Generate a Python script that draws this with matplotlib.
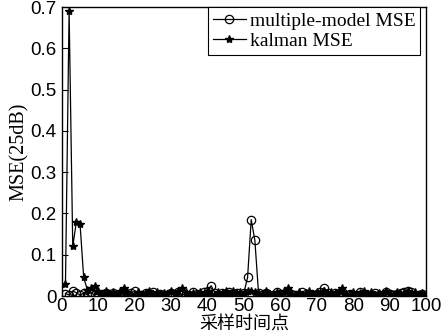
import matplotlib
matplotlib.use('Agg')
import matplotlib.pyplot as plt
import numpy as np

# sample index and MSE values for both filters
t = np.arange(1, 101)
mm_mse = [0.006, 0.003, 0.012, 0.008, 0.002, 0.007, 0.003, 0.009, 0.002, 0.006,
          0.003, 0.008, 0.002, 0.007, 0.003, 0.004, 0.009, 0.002, 0.008, 0.011,
          0.003, 0.002, 0.007, 0.003, 0.009, 0.002, 0.006, 0.003, 0.002, 0.008,
          0.003, 0.009, 0.004, 0.002, 0.003, 0.009, 0.005, 0.002, 0.009, 0.012,
          0.025, 0.008, 0.003, 0.007, 0.002, 0.009, 0.003, 0.007, 0.002, 0.008,
          0.045, 0.185, 0.135, 0.008, 0.003, 0.007, 0.002, 0.003, 0.009, 0.004,
          0.002, 0.010, 0.006, 0.002, 0.003, 0.009, 0.004, 0.002, 0.003, 0.006,
          0.010, 0.020, 0.008, 0.003, 0.007, 0.002, 0.009, 0.003, 0.006, 0.002,
          0.003, 0.009, 0.004, 0.002, 0.003, 0.007, 0.002, 0.003, 0.009, 0.004,
          0.003, 0.006, 0.008, 0.010, 0.013, 0.009, 0.003, 0.002, 0.006, 0.003]
kalman_mse = [0.030, 0.690, 0.120, 0.180, 0.175, 0.045, 0.015, 0.020, 0.025, 0.012,
              0.004, 0.011, 0.003, 0.009, 0.002, 0.012, 0.020, 0.010, 0.004, 0.003,
              0.009, 0.002, 0.008, 0.011, 0.003, 0.010, 0.002, 0.008, 0.004, 0.012,
              0.005, 0.011, 0.020, 0.009, 0.003, 0.008, 0.002, 0.010, 0.003, 0.011,
              0.004, 0.002, 0.010, 0.003, 0.012, 0.005, 0.011, 0.003, 0.009, 0.004,
              0.011, 0.012, 0.010, 0.004, 0.002, 0.011, 0.004, 0.003, 0.010, 0.005,
              0.012, 0.020, 0.004, 0.003, 0.010, 0.002, 0.008, 0.011, 0.003, 0.009,
              0.004, 0.012, 0.003, 0.010, 0.002, 0.011, 0.020, 0.004, 0.003, 0.009,
              0.002, 0.008, 0.012, 0.003, 0.010, 0.002, 0.008, 0.003, 0.011, 0.004,
              0.002, 0.010, 0.003, 0.008, 0.011, 0.003, 0.009, 0.002, 0.008, 0.003]

fig = plt.figure(figsize=(4.48, 3.36), dpi=100)
ax = fig.add_axes([0.138, 0.119, 0.813, 0.860])

ax.plot(t, mm_mse, color='black', lw=0.9, marker='o', ms=6,
        mfc='none', mec='black', mew=0.9, label='multiple-model MSE')
ax.plot(t, kalman_mse, color='black', lw=0.9, marker='*', ms=6,
        label='kalman MSE')

ax.set_xlim(0, 100)
ax.set_ylim(0, 0.7)
ax.set_xticks(np.arange(0, 101, 10))
ax.set_yticks(np.arange(0, 0.71, 0.1))
ax.set_yticklabels(['0', '0.1', '0.2', '0.3', '0.4', '0.5', '0.6', '0.7'])
ax.tick_params(direction='in', length=4, width=0.8, labelsize=13.5)
ax.tick_params(axis='x', pad=1.5)
ax.tick_params(axis='y', pad=4)
for lab in ax.get_xticklabels() + ax.get_yticklabels():
    lab.set_family('Liberation Sans')
for sp in ax.spines.values():
    sp.set_linewidth(1.0)

ax.set_ylabel('MSE(25dB)', family='Liberation Serif', fontsize=14.5, labelpad=1)
ax.set_xlabel('采样时间点', family=['Noto Sans CJK SC', 'DejaVu Sans'],
              fontsize=13, labelpad=0.5)

leg = ax.legend(loc='upper right', bbox_to_anchor=(0.984, 1.0),
                prop={'family': 'Liberation Serif', 'size': 14},
                handlelength=1.7, handletextpad=0.2, borderpad=0.25,
                labelspacing=0.15, fancybox=False, framealpha=1,
                edgecolor='black', borderaxespad=0.0)
leg.get_frame().set_linewidth(0.8)

fig.savefig('out.png', dpi=100)
